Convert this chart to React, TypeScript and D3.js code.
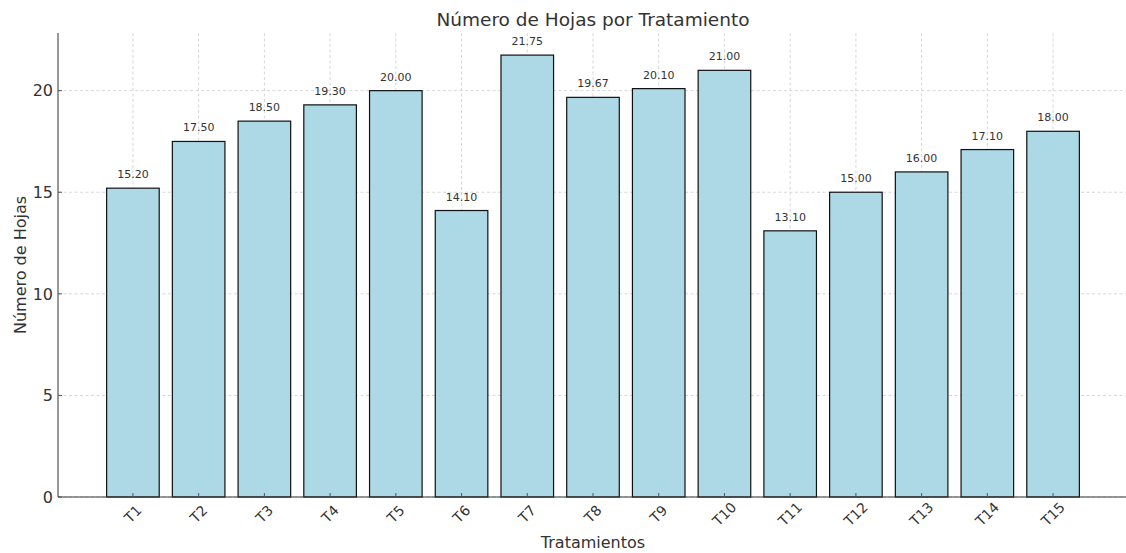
import React from "react";
import * as d3 from "d3";

const categories = ["T1","T2","T3","T4","T5","T6","T7","T8","T9","T10","T11","T12","T13","T14","T15"];
const values = [15.2,17.5,18.5,19.3,20.0,14.1,21.75,19.67,20.1,21.0,13.1,15.0,16.0,17.1,18.0];
const yTicks = [0,5,10,15,20];

const W = 1126, H = 553;
const left = 58, right = 1128, top = 33, bottom = 497;
const font = "DejaVu Sans, sans-serif";
const textColor = "#333333";

export default function App() {
  const n = categories.length;
  const x = d3.scaleLinear().domain([-1.14, n - 1 + 1.14]).range([left, right]);
  const y = d3.scaleLinear().domain([0, d3.max(values)! * 1.05]).range([bottom, top]);
  const bw = x(0.4) - x(-0.4);
  return (
    <svg width={W} height={H} style={{ position: "absolute", left: 0, top: 0, background: "#fff" }} fontFamily={font}>
      {/* grid */}
      {categories.map((c, i) => (
        <line key={"gx" + c} x1={x(i)} x2={x(i)} y1={top} y2={bottom} stroke="#cccccc" strokeWidth={0.8} strokeDasharray="3,2.5" />
      ))}
      {yTicks.map((t) => (
        <line key={"gy" + t} x1={left} x2={right} y1={y(t)} y2={y(t)} stroke="#cccccc" strokeWidth={0.8} strokeDasharray="3,2.5" />
      ))}
      {/* bars */}
      {values.map((v, i) => (
        <rect key={"b" + i} x={x(i) - bw / 2} y={y(v)} width={bw} height={y(0) - y(v)} fill="#add8e6" stroke="#111" strokeWidth={1.2} />
      ))}
      {/* value labels */}
      {values.map((v, i) => (
        <text key={"l" + i} x={x(i)} y={y(v) - 10} textAnchor="middle" fontSize={11} fill={textColor}>{v.toFixed(2)}</text>
      ))}
      {/* spines */}
      <line x1={left} x2={left} y1={top} y2={bottom} stroke="#333" strokeWidth={1} />
      <line x1={left} x2={right} y1={bottom} y2={bottom} stroke="#333" strokeWidth={1} />
      {/* y ticks */}
      {yTicks.map((t) => (
        <g key={"yt" + t}>
          <line x1={left} x2={left + 4} y1={y(t)} y2={y(t)} stroke="#555" />
          <text x={left - 5} y={y(t)} dy="0.36em" textAnchor="end" fontSize={16} fill={textColor}>{t}</text>
        </g>
      ))}
      {/* x ticks */}
      {categories.map((c, i) => (
        <g key={"xt" + c}>
          <line x1={x(i)} x2={x(i)} y1={bottom} y2={bottom - 4} stroke="#555" />
          <text transform={`translate(${x(i)},${bottom + 17}) rotate(-45)`} textAnchor="middle" dy="0.35em" fontSize={14} fill={textColor}>{c}</text>
        </g>
      ))}
      {/* labels */}
      <text x={593} y={26} textAnchor="middle" fontSize={18.5} fill={textColor}>Número de Hojas por Tratamiento</text>
      <text x={593} y={548} textAnchor="middle" fontSize={16} fill={textColor}>Tratamientos</text>
      <text transform={`translate(26,${(top + bottom) / 2}) rotate(-90)`} textAnchor="middle" fontSize={16} fill={textColor}>Número de Hojas</text>
    </svg>
  );
}
